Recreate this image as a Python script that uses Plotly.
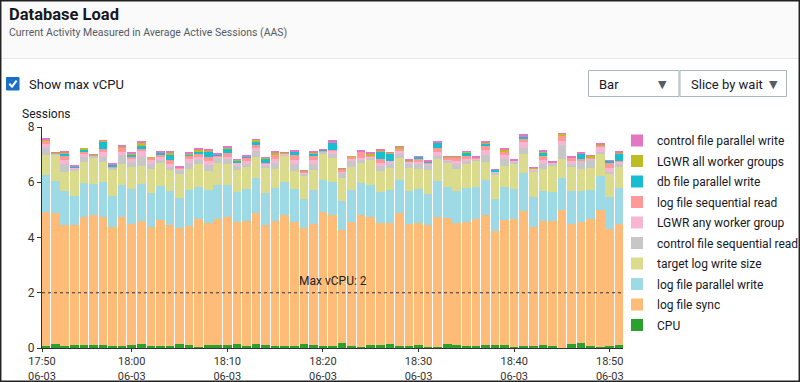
import plotly.graph_objects as go
import pandas as pd

# ---------------- data ----------------
times = pd.date_range("2023-06-03 17:51", "2023-06-03 18:51", freq="1min").strftime("%Y-%m-%d %H:%M").tolist()

cpu = [0.07, 0.14, 0.07, 0.12, 0.10, 0.10, 0.10, 0.08, 0.06, 0.12, 0.14, 0.07, 0.07, 0.07, 0.16, 0.10,
       0.05, 0.10, 0.10, 0.12, 0.13, 0.06, 0.14, 0.10, 0.08, 0.07, 0.08, 0.13, 0.10, 0.06, 0.07, 0.19,
       0.06, 0.05, 0.11, 0.12, 0.13, 0.08, 0.08, 0.11, 0.04, 0.05, 0.16, 0.11, 0.08, 0.08, 0.10, 0.10,
       0.11, 0.05, 0.08, 0.06, 0.10, 0.08, 0.01, 0.13, 0.19, 0.08, 0.05, 0.08, 0.12]
log_file_sync = [4.85, 4.73, 4.37, 4.33, 4.63, 4.70, 4.64, 4.30, 4.67, 4.38, 4.47, 4.32, 4.58, 4.37, 4.19, 4.31,
                 4.61, 4.41, 4.58, 4.63, 4.44, 4.52, 4.73, 4.35, 4.52, 4.74, 4.49, 4.20, 4.38, 4.87, 4.75, 4.08,
                 4.50, 4.76, 4.63, 4.42, 4.39, 4.82, 4.40, 4.40, 4.41, 4.69, 4.56, 4.40, 4.48, 4.58, 4.71, 4.13,
                 4.52, 4.63, 4.88, 4.32, 4.50, 4.52, 4.97, 4.35, 4.37, 4.58, 4.93, 4.24, 4.38]
log_file_parallel_write = [1.33, 1.16, 1.24, 1.06, 1.24, 1.13, 1.28, 1.12, 1.17, 1.26, 1.32, 1.21, 1.22, 1.23, 1.08, 1.30,
                           1.17, 1.20, 1.21, 1.15, 1.09, 1.16, 1.29, 1.17, 1.20, 1.21, 1.20, 1.05, 1.23, 1.14, 1.20, 1.05,
                           1.16, 1.15, 1.16, 1.12, 1.20, 1.18, 1.20, 1.23, 1.14, 1.30, 1.11, 1.17, 1.24, 1.18, 1.27, 1.15,
                           1.21, 1.09, 1.36, 1.10, 1.08, 1.06, 1.18, 1.20, 1.12, 1.06, 1.24, 1.16, 1.30]
target_log_write_size = [0.72, 0.98, 0.69, 0.92, 0.75, 0.98, 0.71, 0.95, 0.75, 0.80, 0.67, 0.87, 0.83, 0.78, 0.87, 0.77,
                         0.82, 0.70, 0.79, 0.77, 0.77, 0.81, 0.76, 0.91, 0.67, 0.94, 0.64, 0.88, 0.72, 0.96, 0.87, 0.84,
                         0.83, 0.75, 0.89, 0.75, 0.81, 0.81, 0.85, 0.75, 0.84, 0.79, 0.90, 0.81, 0.87, 0.93, 0.66, 0.88,
                         0.75, 0.91, 0.71, 0.90, 0.79, 0.96, 0.67, 0.87, 0.81, 0.78, 0.83, 0.83, 0.76]
control_file_sequential_read = [0.26, 0.02, 0.28, 0.07, 0.21, 0.05, 0.17, 0.08, 0.32, 0.16, 0.30, 0.18, 0.12, 0.10, 0.15, 0.20,
                                0.15, 0.21, 0.21, 0.16, 0.16, 0.10, 0.21, 0.08, 0.21, 0.03, 0.24, 0.06, 0.22, 0.10, 0.14, 0.19,
                                0.25, 0.09, 0.09, 0.18, 0.14, 0.12, 0.12, 0.16, 0.22, 0.12, 0.06, 0.16, 0.10, 0.06, 0.23, 0.09,
                                0.24, 0.06, 0.20, 0.06, 0.18, 0.05, 0.52, 0.12, 0.28, 0.33, 0.06, 0.06, 0.09]
lgwr_any_worker_group = [0.14, 0.00, 0.17, 0.02, 0.08, 0.02, 0.19, 0.02, 0.14, 0.14, 0.22, 0.15, 0.13, 0.12, 0.06, 0.15,
                         0.11, 0.15, 0.06, 0.08, 0.11, 0.12, 0.10, 0.07, 0.15, 0.06, 0.15, 0.05, 0.15, 0.00, 0.12, 0.05,
                         0.06, 0.09, 0.07, 0.12, 0.10, 0.12, 0.09, 0.09, 0.03, 0.16, 0.05, 0.12, 0.06, 0.03, 0.20, 0.03,
                         0.15, 0.03, 0.24, 0.06, 0.17, 0.05, 0.14, 0.10, 0.03, 0.03, 0.17, 0.16, 0.09]
log_file_sequential_read = [0.13, 0.00, 0.12, 0.03, 0.12, 0.00, 0.13, 0.02, 0.15, 0.06, 0.08, 0.10, 0.02, 0.12, 0.02, 0.15,
                            0.10, 0.14, 0.01, 0.16, 0.02, 0.14, 0.12, 0.02, 0.15, 0.00, 0.18, 0.01, 0.15, 0.01, 0.03, 0.07,
                            0.06, 0.22, 0.03, 0.12, 0.01, 0.10, 0.02, 0.12, 0.02, 0.14, 0.05, 0.14, 0.12, 0.05, 0.14, 0.02,
                            0.15, 0.00, 0.09, 0.01, 0.13, 0.00, 0.22, 0.14, 0.03, 0.03, 0.06, 0.15, 0.02]
db_file_parallel_write = [0.02, 0.00, 0.09, 0.02, 0.07, 0.00, 0.26, 0.07, 0.00, 0.10, 0.12, 0.00, 0.09, 0.22, 0.00, 0.02,
                          0.12, 0.22, 0.04, 0.16, 0.07, 0.02, 0.12, 0.16, 0.00, 0.00, 0.14, 0.00, 0.08, 0.04, 0.25, 0.00,
                          0.00, 0.00, 0.00, 0.28, 0.27, 0.00, 0.00, 0.06, 0.04, 0.18, 0.00, 0.00, 0.11, 0.00, 0.09, 0.05,
                          0.00, 0.00, 0.09, 0.00, 0.11, 0.00, 0.00, 0.00, 0.20, 0.00, 0.00, 0.11, 0.27]
lgwr_all_worker_groups = [0.03, 0.05, 0.05, 0.00, 0.05, 0.02, 0.02, 0.02, 0.02, 0.02, 0.11, 0.01, 0.02, 0.07, 0.02, 0.03,
                          0.06, 0.02, 0.02, 0.02, 0.04, 0.02, 0.06, 0.02, 0.09, 0.01, 0.01, 0.04, 0.06, 0.01, 0.02, 0.01,
                          0.01, 0.02, 0.06, 0.04, 0.01, 0.05, 0.04, 0.01, 0.01, 0.02, 0.05, 0.02, 0.05, 0.00, 0.04, 0.00,
                          0.06, 0.03, 0.01, 0.01, 0.05, 0.01, 0.04, 0.00, 0.02, 0.07, 0.04, 0.00, 0.05]
control_file_parallel_write = [0.05, 0.01, 0.05, 0.02, 0.00, 0.01, 0.02, 0.01, 0.05, 0.02, 0.03, 0.00, 0.02, 0.02, 0.01, 0.04,
                               0.04, 0.03, 0.01, 0.04, 0.01, 0.03, 0.02, 0.03, 0.04, 0.01, 0.02, 0.02, 0.02, 0.01, 0.07, 0.03,
                               0.00, 0.02, 0.02, 0.03, 0.02, 0.03, 0.01, 0.02, 0.02, 0.02, 0.01, 0.02, 0.02, 0.01, 0.03, 0.02,
                               0.04, 0.01, 0.07, 0.01, 0.04, 0.01, 0.01, 0.01, 0.02, 0.02, 0.03, 0.01, 0.03]

series_names = ["CPU", "log file sync", "log file parallel write", "target log write size",
                "control file sequential read", "LGWR any worker group", "log file sequential read",
                "db file parallel write", "LGWR all worker groups", "control file parallel write"]
series_values = [cpu, log_file_sync, log_file_parallel_write, target_log_write_size,
                 control_file_sequential_read, lgwr_any_worker_group, log_file_sequential_read,
                 db_file_parallel_write, lgwr_all_worker_groups, control_file_parallel_write]
series_colors = ["#2ca02c", "#ffbb78", "#9edae5", "#dbdb8d", "#c7c7c7", "#f7b6d2", "#ff9896",
                 "#17becf", "#bcbd22", "#e377c2"]

max_vcpu = 2
tick_times = ["2023-06-03 17:50:37", "2023-06-03 18:00", "2023-06-03 18:10", "2023-06-03 18:20",
              "2023-06-03 18:30", "2023-06-03 18:40", "2023-06-03 18:50"]
tick_labels = ["17:50<br>06-03", "18:00<br>06-03", "18:10<br>06-03", "18:20<br>06-03",
               "18:30<br>06-03", "18:40<br>06-03", "18:50<br>06-03"]
y_ticks = [0, 2, 4, 6, 8]

# ---------------- layout helpers ----------------
W, H = 800, 382
L, R, T, B = 42, 623, 127, 348
def px(x):
    return (x - L) / (R - L)
def py(y):
    return (B - y) / (B - T)

FONT = "Roboto"
TXT = "#16191f"

fig = go.Figure()
n = len(series_names)
for i, (name, vals, col) in enumerate(zip(series_names, series_values, series_colors)):
    fig.add_trace(go.Bar(x=times, y=vals, name=name, marker=dict(color=col, line=dict(width=0)),
                         legendgroup=f"g{i}", legendrank=100 * (n - i)))

shapes = []
# header band
shapes.append(dict(type="rect", xref="paper", yref="paper", x0=px(0), x1=px(W), y0=py(0), y1=py(58),
                   fillcolor="#fafafa", line=dict(width=0), layer="below"))
shapes.append(dict(type="line", xref="paper", yref="paper", x0=px(0), x1=px(W), y0=py(58.5), y1=py(58.5),
                   line=dict(color="#e6e6e6", width=1)))
# outer border
shapes.append(dict(type="rect", xref="paper", yref="paper", x0=px(0.7), x1=px(W - 0.7), y0=py(0.7), y1=py(H - 0.7),
                   line=dict(color="#222222", width=1.5)))
# checkbox
shapes.append(dict(type="rect", xref="paper", yref="paper", x0=px(6.5), x1=px(19), y0=py(77.5), y1=py(90),
                   fillcolor="#1a6fc4", line=dict(color="#1a6fc4", width=1)))
shapes.append(dict(type="path", xref="paper", yref="paper",
                   path=f"M {px(9.3)} {py(83.8)} L {px(12)} {py(86.6)} L {px(16.6)} {py(80.6)}",
                   line=dict(color="white", width=2)))
# dropdown boxes
shapes.append(dict(type="rect", xref="paper", yref="paper", x0=px(588.5), x1=px(679), y0=py(70.5), y1=py(96.5),
                   fillcolor="white", line=dict(color="#aab7b8", width=1)))
shapes.append(dict(type="rect", xref="paper", yref="paper", x0=px(680), x1=px(786.5), y0=py(70.5), y1=py(96.5),
                   fillcolor="white", line=dict(color="#aab7b8", width=1)))
# max vCPU line
shapes.append(dict(type="line", xref="paper", yref="y", x0=0, x1=1, y0=max_vcpu, y1=max_vcpu,
                   line=dict(color="#333333", width=1, dash="dot")))

annotations = [
    dict(text="<b>Database Load</b>", x=px(7), y=py(14), xref="paper", yref="paper", xanchor="left",
         yanchor="middle", showarrow=False, font=dict(family=FONT, size=16.5, color=TXT)),
    dict(text="Current Activity Measured in Average Active Sessions (AAS)", x=px(7), y=py(33), xref="paper",
         yref="paper", xanchor="left", yanchor="middle", showarrow=False,
         font=dict(family=FONT, size=10.5, color="#545b64")),
    dict(text="Show max vCPU", x=px(27), y=py(84), xref="paper", yref="paper", xanchor="left",
         yanchor="middle", showarrow=False, font=dict(family=FONT, size=13, color=TXT)),
    dict(text="Bar", x=px(597), y=py(84), xref="paper", yref="paper", xanchor="left",
         yanchor="middle", showarrow=False, font=dict(family=FONT, size=13, color=TXT)),
    dict(text="▼", x=px(662), y=py(84), xref="paper", yref="paper", xanchor="center",
         yanchor="middle", showarrow=False, font=dict(family="DejaVu Sans", size=11, color="#545b64")),
    dict(text="Slice by wait", x=px(689), y=py(84), xref="paper", yref="paper", xanchor="left",
         yanchor="middle", showarrow=False, font=dict(family=FONT, size=13, color=TXT)),
    dict(text="▼", x=px(773), y=py(84), xref="paper", yref="paper", xanchor="center",
         yanchor="middle", showarrow=False, font=dict(family="DejaVu Sans", size=11, color="#545b64")),
    dict(text="Sessions", x=px(20), y=py(114), xref="paper", yref="paper", xanchor="left",
         yanchor="middle", showarrow=False, font=dict(family=FONT, size=12, color=TXT)),
    dict(text=f"Max vCPU: {max_vcpu}", x=0.5, y=max_vcpu, xref="paper", yref="y", xanchor="center",
         yanchor="bottom", yshift=3, showarrow=False, font=dict(family=FONT, size=12, color="#222222")),
]

fig.update_layout(
    width=W, height=H,
    margin=dict(l=L, r=W - R, t=T, b=H - B, pad=0, autoexpand=False),
    paper_bgcolor="white", plot_bgcolor="white",
    barmode="stack", bargap=0.1,
    font=dict(family=FONT, size=12, color=TXT),
    showlegend=True,
    legend=dict(x=px(617), xanchor="left", y=py(126), yanchor="top", traceorder="grouped",
                tracegroupgap=1.5, font=dict(family=FONT, size=12, color=TXT), bgcolor="rgba(0,0,0,0)",
                itemclick=False),
    shapes=shapes, annotations=annotations,
    xaxis=dict(type="date", range=["2023-06-03 17:50:37", "2023-06-03 18:51:23"],
               tickmode="array", tickvals=tick_times, ticktext=tick_labels,
               ticks="outside", ticklen=3, tickcolor="#333", showline=True, linecolor="#333",
               linewidth=1, showgrid=False, tickfont=dict(family=FONT, size=11, color="#333")),
    yaxis=dict(range=[0, 8], tickvals=y_ticks, ticks="outside", ticklen=4, tickcolor="#333",
               showline=True, linecolor="#333", linewidth=1, showgrid=True, gridcolor="#eeeeee",
               zeroline=False, tickfont=dict(family=FONT, size=12, color="#333")),
)
try:
    fig.update_layout(legend_maxheight=260)
except Exception:
    fig.update_layout(legend_tracegroupgap=0)

fig.write_html("out.html", config={"displayModeBar": False},
               post_script="document.body.style.margin='0';document.body.style.overflow='hidden';")
